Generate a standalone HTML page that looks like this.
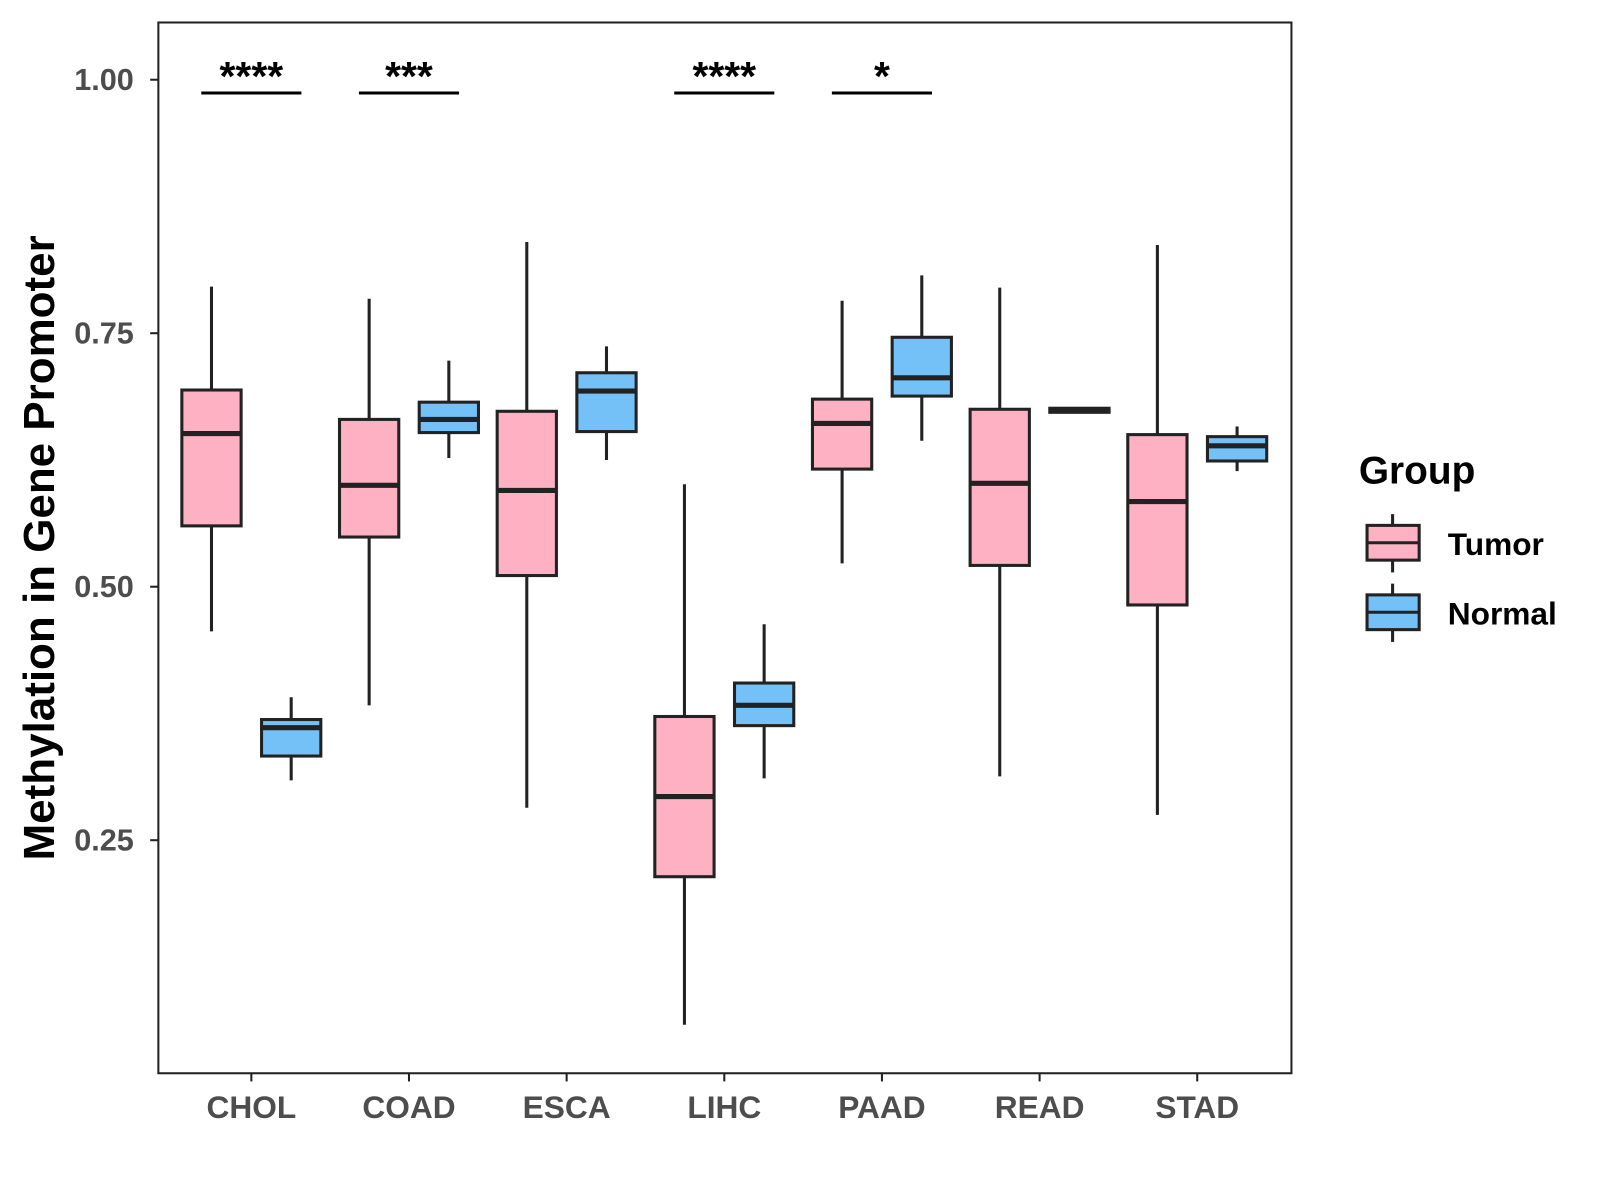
<!DOCTYPE html>
<html><head><meta charset="utf-8"><style>
html,body{margin:0;padding:0;background:#fff;width:1600px;height:1200px;overflow:hidden}
svg{font-family:"Liberation Sans",Arial,sans-serif;display:block}
</style></head><body>
<svg id="chart" width="1600" height="1200" viewBox="0 0 1566 1174" preserveAspectRatio="none">
<rect x="155" y="22" width="1109" height="1028" fill="#fff" stroke="#222" stroke-width="2"/>
<g id="marks"></g>
<text transform="translate(53,536) rotate(-90)" text-anchor="middle" font-size="43" font-weight="bold" fill="#000">Methylation in Gene Promoter</text>
<g>
<text x="1330" y="473" font-size="38" font-weight="bold" fill="#000">Group</text>
<g>
<line x1="1363" y1="503" x2="1363" y2="560" stroke="#222" stroke-width="3"/>
<rect x="1338" y="514" width="51" height="34" fill="#FDB1C3" stroke="#222" stroke-width="3"/>
<line x1="1338" y1="531" x2="1389" y2="531" stroke="#222" stroke-width="3"/>
<text x="1417" y="543" font-size="31" font-weight="bold">Tumor</text></g>
<g>
<line x1="1363" y1="571" x2="1363" y2="628" stroke="#222" stroke-width="3"/>
<rect x="1338" y="582" width="51" height="34" fill="#74C1F8" stroke="#222" stroke-width="3"/>
<line x1="1338" y1="599" x2="1389" y2="599" stroke="#222" stroke-width="3"/>
<text x="1417" y="611" font-size="31" font-weight="bold">Normal</text></g>
</g>
</svg>
<script>
const categories=["CHOL","COAD","ESCA","LIHC","PAAD","READ","STAD"];
// [whiskerHigh, q3, median, q1, whiskerLow]
const tumorStats=[[0.796,0.694,0.651,0.560,0.456],[0.784,0.665,0.600,0.549,0.383],[0.840,0.673,0.595,0.511,0.282],[0.601,0.372,0.293,0.214,0.068],[0.782,0.685,0.661,0.616,0.523],[0.795,0.675,0.602,0.521,0.313],[0.837,0.650,0.584,0.482,0.275]];
const normalStats=[[0.391,0.369,0.361,0.333,0.309],[0.723,0.682,0.665,0.652,0.627],[0.737,0.711,0.693,0.653,0.625],[0.463,0.405,0.383,0.363,0.311],[0.807,0.746,0.706,0.688,0.644],[0.676,0.676,0.674,0.672,0.672],[0.658,0.648,0.639,0.624,0.614]];
const yTicks=[0.25,0.5,0.75,1.0];
const yTickLabels=["0.25","0.50","0.75","1.00"];
const sigLabels=["****","***","","****","*","",""];
const NS="http://www.w3.org/2000/svg";
const g=document.getElementById("marks");
const yS=v=>78+(1-v)*992;
const xS=i=>246+i*154.3;
function mk(t,a,p){const e=document.createElementNS(NS,t);for(const k in a)e.setAttribute(k,a[k]);(p||g).appendChild(e);return e;}
yTicks.forEach((v,i)=>{
 const l=mk("line",{x1:147,x2:155,y1:yS(v),y2:yS(v),stroke:"#222","stroke-width":2});
 
 
 const t=mk("text",{x:131,y:yS(v)+10,"text-anchor":"end","font-size":30,"font-weight":"bold",fill:"#4d4d4d"});
 t.textContent=yTickLabels[i];
 
 
});
categories.forEach((c,i)=>{
 const x=xS(i);
 const l=mk("line",{x1:x,x2:x,y1:1050,y2:1058,stroke:"#222","stroke-width":2});
 
 
 const t=mk("text",{x:x,y:1094,"text-anchor":"middle","font-size":31,"font-weight":"bold",fill:"#4d4d4d"});
 t.textContent=c;
 
 
 [[tumorStats[i],-39,"#FDB1C3","tumor"],[normalStats[i],39,"#74C1F8","normal"]].forEach(([s,dx,col,nm])=>{
  const cx=x+dx, grp=mk("g",{});
  
  
  mk("line",{x1:cx,x2:cx,y1:yS(s[0]),y2:yS(s[4]),stroke:"#222","stroke-width":3},grp);
  mk("rect",{x:cx-29,y:yS(s[1]),width:58,height:Math.max(yS(s[3])-yS(s[1]),1),fill:col,stroke:"#222","stroke-width":3},grp);
  mk("line",{x1:cx-29,x2:cx+29,y1:yS(s[2]),y2:yS(s[2]),stroke:"#222","stroke-width":5},grp);
 });
 if(sigLabels[i]){
  const b=mk("line",{x1:x-49,x2:x+49,y1:91,y2:91,stroke:"#000","stroke-width":3});
  
  
  const s=mk("text",{x:x,y:88,"text-anchor":"middle","font-size":40,"font-weight":"bold",fill:"#000"});
  s.textContent=sigLabels[i];
  
  
 }
});
</script>
</body></html>
